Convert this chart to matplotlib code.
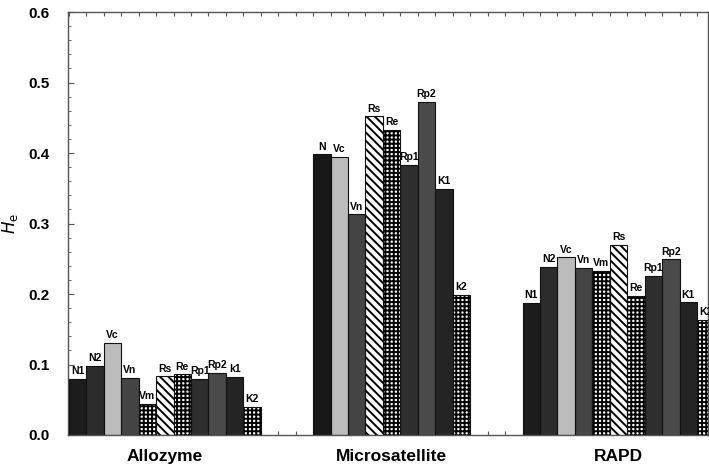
import matplotlib
matplotlib.use("Agg")
import matplotlib.pyplot as plt
from matplotlib.ticker import MultipleLocator

plt.rcParams['font.family'] = ['Liberation Sans', 'DejaVu Sans']
plt.rcParams['hatch.linewidth'] = 1.4

# He values per population
groups = ['Allozyme', 'Microsatellite', 'RAPD']

allozyme_labels = ['N1', 'N2', 'Vc', 'Vn', 'Vm', 'Rs', 'Re', 'Rp1', 'Rp2', 'k1', 'K2']
allozyme_vals = [0.080, 0.098, 0.131, 0.081, 0.044, 0.083, 0.086, 0.080, 0.088, 0.082, 0.040]

micro_labels = ['N', 'Vc', 'Vn', 'Rs', 'Re', 'Rp1', 'Rp2', 'K1', 'k2']
micro_vals = [0.398, 0.395, 0.313, 0.452, 0.433, 0.383, 0.473, 0.349, 0.199]

rapd_labels = ['N1', 'N2', 'Vc', 'Vn', 'Vm', 'Rs', 'Re', 'Rp1', 'Rp2', 'K1', 'K2']
rapd_vals = [0.187, 0.239, 0.252, 0.237, 0.233, 0.270, 0.197, 0.226, 0.249, 0.188, 0.163]

group_starts = [0, 14, 26]

# fill style per population: (facecolor, hatch)
checker = ('white', '++++')
stripes = ('white', '\\\\\\\\')
styles = {
    'N': ('#181818', None),
    'N1': ('#1c1c1c', None),
    'N2': ('#2c2c2c', None),
    'VC': ('#bcbcbc', None),
    'VN': ('#444444', None),
    'VM': checker,
    'RS': stripes,
    'RE': checker,
    'RP1': ('#2e2e2e', None),
    'RP2': ('#4a4a4a', None),
    'K1': ('#242424', None),
    'K2': checker,
}

fig = plt.figure(figsize=(7.09, 4.67), dpi=100)
ax = fig.add_axes([68 / 709, 1 - 435 / 467, 640 / 709, 423 / 467])

all_labels = [allozyme_labels, micro_labels, rapd_labels]
all_vals = [allozyme_vals, micro_vals, rapd_vals]

for start, labs, vals in zip(group_starts, all_labels, all_vals):
    for i, (lab, v) in enumerate(zip(labs, vals)):
        x = start + i + 0.5
        fc, hatch = styles[lab.upper()]
        if hatch:
            ax.bar(x, v, width=1.0, color=fc, edgecolor='black', hatch=hatch,
                   linewidth=0, zorder=2)
        else:
            ax.bar(x, v, width=1.0, color=fc, linewidth=0, zorder=2)
        ax.bar(x, v, width=1.0, fill=False, edgecolor='#111111', linewidth=0.8, zorder=3)
        ax.annotate(lab, (x, v), xytext=(0, 2), textcoords='offset points',
                    ha='center', va='bottom', fontsize=7.5, fontweight='bold', zorder=4)

# group names under each cluster
for start, labs, name in zip(group_starts, all_labels, groups):
    ax.text(start + len(labs) / 2, -0.03, name, ha='center', va='center',
            fontsize=12.5, fontweight='bold', transform=ax.transData)

ax.set_xlim(-0.05, 36.63)
ax.set_ylim(0, 0.6)
ax.yaxis.set_major_locator(MultipleLocator(0.1))
ax.yaxis.set_minor_locator(MultipleLocator(0.02))
ax.xaxis.set_major_locator(MultipleLocator(1))
ax.set_xticklabels([])
ax.yaxis.set_major_formatter(matplotlib.ticker.FormatStrFormatter('%.1f'))
ax.tick_params(axis='y', which='both', direction='in', pad=13, labelsize=11,
               color='#555555')
ax.tick_params(axis='y', which='major', length=4)
ax.tick_params(axis='y', which='minor', length=2)
ax.tick_params(axis='x', which='both', direction='in', top=True, length=3,
               color='#555555')
for lbl in ax.get_yticklabels():
    lbl.set_fontweight('bold')
for sp in ax.spines.values():
    sp.set_color('#555555')
    sp.set_linewidth(1.0)

ax.set_ylabel(r'$H_{\mathrm{e}}$', fontsize=12)
ax.yaxis.set_label_coords(-0.075, 0.5)

fig.savefig('out.png', dpi=100)
